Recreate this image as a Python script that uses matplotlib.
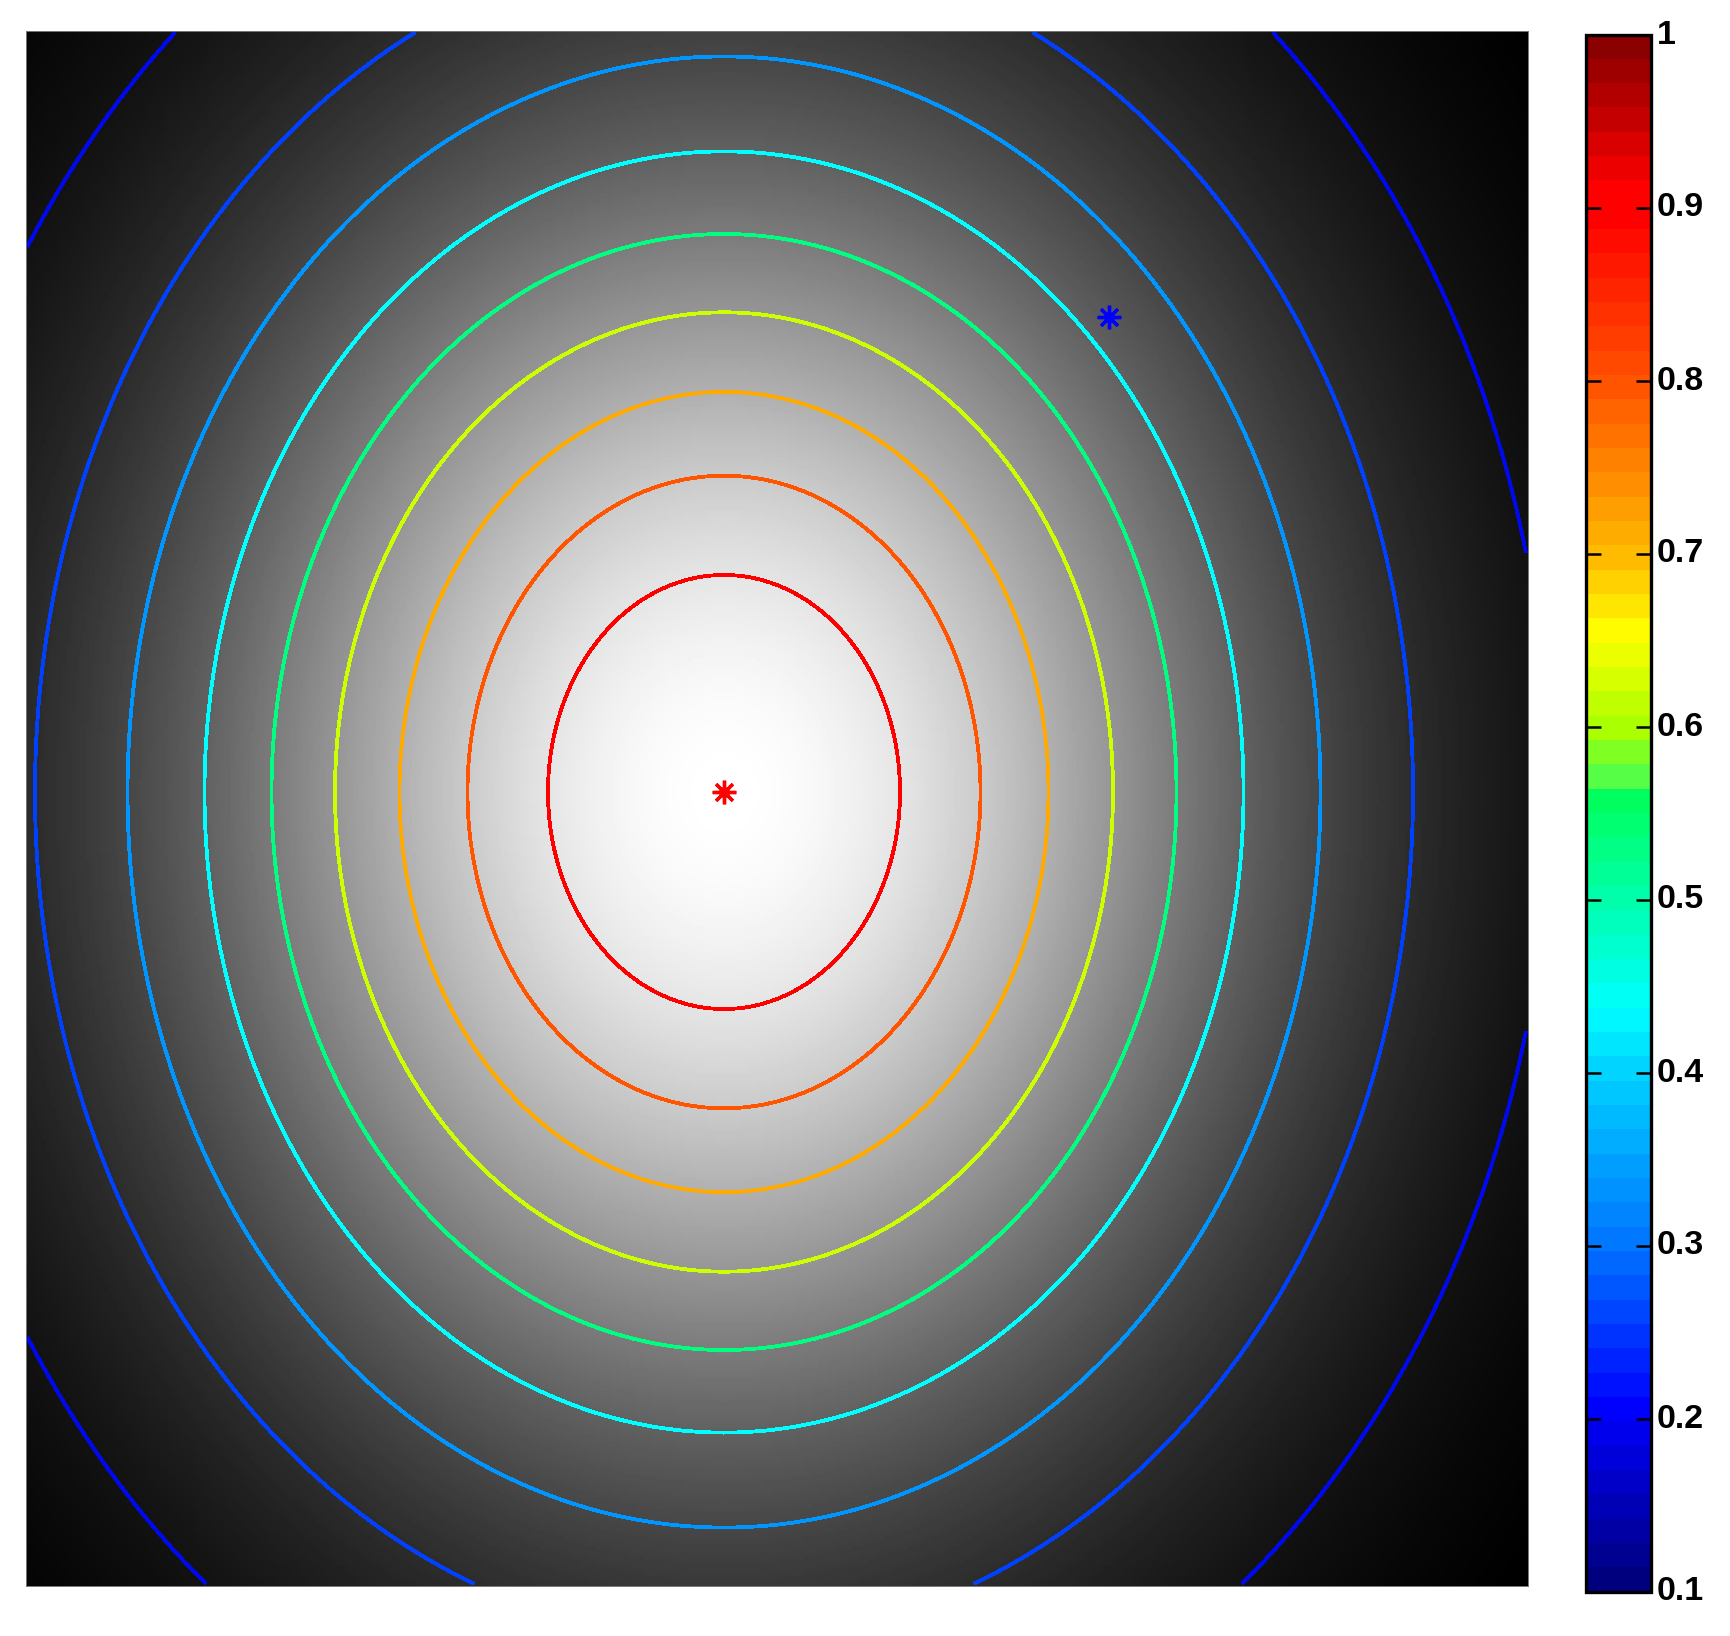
import numpy as np
import matplotlib
matplotlib.use("Agg")
import matplotlib.pyplot as plt
from matplotlib.colors import LinearSegmentedColormap, Normalize
from matplotlib.cm import ScalarMappable
from matplotlib.transforms import ScaledTranslation

W, H = 1731, 1636

# contour levels and where each one crosses the axes through the peak (px from peak)
levels = [0.1, 0.2, 0.3, 0.4, 0.5, 0.6, 0.7, 0.8, 0.9]
semi_x = [825, 689, 596.5, 519.5, 452.5, 389, 324.5, 256.5, 176]
semi_y = [1017, 849, 735, 640, 557, 478, 401, 316, 218.5]
level_colors = ["#0008EC", "#0040FF", "#0096FF", "#00FFFF", "#00FF80",
                "#CCFF00", "#FFAA00", "#FF5500", "#FF0000"]

# outer part of the gray background, beyond the 0.1 contour
corner_radius = [1020]
corner_value = [0.031]

peak_x, peak_y = [698], [761]
other_x, other_y = [1083], [286]

# colorbar colours read at these values
bar_values = [0.1, 0.2, 0.3, 0.4, 0.435, 0.5, 0.564, 0.571, 0.6, 0.655, 0.7, 0.8, 0.9, 0.915, 1.0]
bar_colors = ["#00007F", "#0000FF", "#0078FF", "#00D4FF", "#00FFFF", "#00FFAA", "#00FF55", "#55FF46",
              "#AAFF00", "#FFFF00", "#FFBB00", "#FF5500", "#FF0000", "#FF0000", "#8B0000"]
bar_ticks = [0.1, 0.2, 0.3, 0.4, 0.5, 0.6, 0.7, 0.8, 0.9, 1.0]
bar_labels = ["0.1", "0.2", "0.3", "0.4", "0.5", "0.6", "0.7", "0.8", "0.9", "1"]

plt.rcParams["font.family"] = ["Liberation Sans", "DejaVu Sans"]
fig = plt.figure(figsize=(W / 100, H / 100), dpi=100)

ax = fig.add_axes([26 / W, 1 - 1586 / H, 1502 / W, 1555 / H])
x = np.arange(455) * 3.3 + 1.65
y = np.arange(471) * 3.3 + 1.65
X, Y = np.meshgrid(x, y)

# the surface follows the read crossings, log value against radius squared
r_read = np.array([0] + semi_x[::-1] + corner_radius, dtype=float)
v_read = np.array([1] + levels[::-1] + corner_value, dtype=float)
aspect = np.mean(np.array(semi_y) / np.array(semi_x))
r2 = (X - peak_x[0]) ** 2 + ((Y - peak_y[0]) / aspect) ** 2
field = np.exp(np.interp(r2, r_read ** 2, np.log(v_read)))

ax.imshow(field, cmap="gray", vmin=field.min(), vmax=1, interpolation="nearest",
          extent=(0, 1502, 1555, 0), aspect="auto")
ax.contour(X, Y, field, levels=levels, colors=level_colors, linewidths=2.0, antialiased=False)
ax.plot(peak_x, peak_y, ls="", marker=(8, 2, 0), ms=17, mew=2.4, color="#FF0000")
ax.plot(peak_x, peak_y, ls="", marker="o", ms=8, mew=0, color="#FF0000")
ax.plot(other_x, other_y, ls="", marker=(8, 2, 0), ms=17, mew=2.4, color="#0000FF")
ax.plot(other_x, other_y, ls="", marker="o", ms=8, mew=0, color="#0000FF")
ax.set_xlim(0, 1502)
ax.set_ylim(1555, 0)
ax.set_xticks([])
ax.set_yticks([])
for spine in ax.spines.values():
    spine.set_linewidth(0.7)
    spine.set_color("#777777")

cax = fig.add_axes([1586 / W, 1 - 1591.5 / H, 65.5 / W, 1557 / H])
pos = (np.array(bar_values) - 0.1) / 0.9
cmap = LinearSegmentedColormap.from_list("bar", list(zip(pos, bar_colors)), N=64)
cbar = fig.colorbar(ScalarMappable(norm=Normalize(0.1, 1), cmap=cmap), cax=cax, ticks=bar_ticks)
cbar.ax.set_yticklabels(bar_labels, fontsize=24.5, fontweight="bold")
cbar.ax.minorticks_off()
cbar.ax.tick_params(axis="y", direction="in", left=True, right=True, length=11, width=1.8, pad=3.6)
cbar.outline.set_linewidth(2.4)
# labels sit a little above their ticks in the original
up = ScaledTranslation(0, 3 / 100, fig.dpi_scale_trans)
for lab in cbar.ax.get_yticklabels():
    lab.set_transform(lab.get_transform() + up)

fig.savefig("out.png", dpi=100)
